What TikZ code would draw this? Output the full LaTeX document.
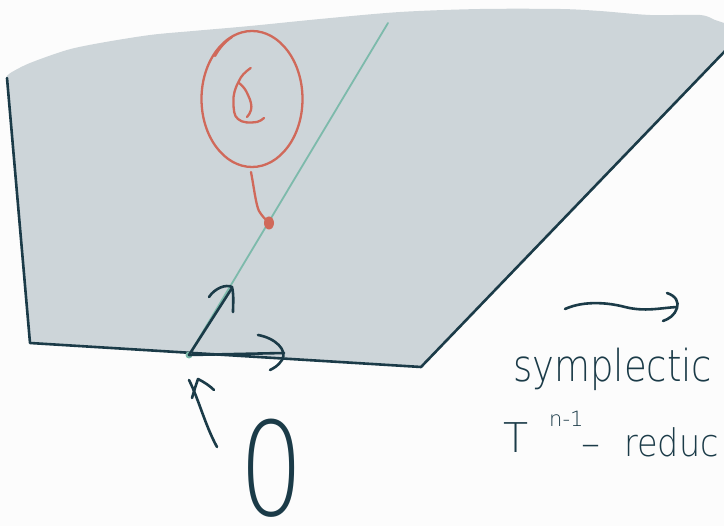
\documentclass[tikz,border=0pt]{standalone}
\usepackage{fontspec}
\usepackage{graphicx}
\newfontfamily\hand{DejaVu Sans ExtraLight}
\definecolor{bg}{HTML}{FCFCFC}
\definecolor{reg}{HTML}{CDD5D9}
\definecolor{ink}{HTML}{1B3B48}
\definecolor{tealc}{HTML}{7DBAAB}
\definecolor{rd}{HTML}{D0695A}
\begin{document}
\begin{tikzpicture}[x=1pt,y=-1pt,line cap=round,line join=round,
  inkline/.style={draw=ink,line width=2.6pt},
  rdline/.style={draw=rd,line width=2.3pt},
  handtext/.style={text=ink,inner sep=0pt,anchor=base west}]
\useasboundingbox (0,0) rectangle (724,526);
\clip (0,0) rectangle (724,526);
\fill[bg] (0,0) rectangle (724,526);
% region
\fill[reg] plot[smooth] coordinates {(7,76) (12,72) (30,63) (67,50) (100,43) (150,35) (193,31) (250,26) (320,19) (400,12) (480,9) (560,9) (600,11) (650,15) (700,15) (715,20) (724,23)}
  -- (724,52) -- (421,367) -- (30,343) -- cycle;
\coordinate (A1) at (7,78);
\coordinate (A2) at (30,343);
\coordinate (A3) at (421,367);
\coordinate (A4) at (726,50);
\draw[inkline] (A1) -- (A2) -- (A3) -- (A4);
% green line
\coordinate (O) at (189,355);
\coordinate (G) at (388,23);
\draw[tealc,line width=1.8pt] (O) -- (G);
\fill[tealc] (O) circle (3.5);
% red point with circle
\coordinate (P) at (269,223);
\draw[rdline] (252,99) ellipse (50.5 and 68);
\draw[rdline] (215,56) .. controls (220,47) and (226,41) .. (232,37);
\draw[rdline] (250.7,68) .. controls (245,72) and (241,76) .. (239,81) .. controls (235,88) and (233,95) .. (233.5,102) .. controls (233.5,110) and (234,116) .. (238,119) .. controls (242,123) and (250,123) .. (257,122) .. controls (260,121) and (262,120) .. (264,118);
\draw[rdline] (239,83) .. controls (243,86) and (246,90) .. (248,95) .. controls (251,101) and (252,106) .. (251,110) .. controls (250,113) and (249,115) .. (247,117);
\draw[rdline] (251,172) .. controls (254,188) and (256,205) .. (259,211) .. controls (262,216) and (265,219) .. (P);
\fill[rd] (P) ellipse (5 and 6.5);
% frame arrows at origin
\coordinate (D) at (232,288);
\coordinate (H) at (284,353);
\draw[inkline] (O) -- (D);
\draw[inkline] (209,297) .. controls (215,288) and (226,284) .. (232,287) .. controls (234,295) and (233,305) .. (233,312);
\draw[inkline] (O) -- (H);
\draw[inkline] (258,335) .. controls (275,338) and (288,350) .. (282,360) .. controls (278,366) and (274,368) .. (270,370);
% zero
\node[text=ink,inner sep=0pt,anchor=base,font=\hand\fontsize{130}{130}\selectfont] (zero) at (272,516) {\scalebox{0.78}[1]{0}};
\coordinate (U) at (217,447);
\draw[inkline] (U) .. controls (205,425) and (199,400) .. (O|-0,380);
\draw[inkline] (192,398) .. controls (194,391) and (196,385) .. (198,379) .. controls (204,382) and (210,386) .. (214,390);
% reduction arrow
\coordinate (R1) at (565,309);
\coordinate (R2) at (677,307);
\draw[inkline] (R1) .. controls (585,300) and (610,303) .. (625,307) .. controls (645,312) and (660,308) .. (R2);
\draw[inkline] (667,293) .. controls (676,296) and (679,302) .. (677,308) .. controls (675,315) and (669,319) .. (663,321);
% text
\node[handtext,font=\hand\fontsize{44}{44}\selectfont] (sym) at (513,382) {\scalebox{0.84}[1]{symplectic}};
\node[handtext,font=\hand\fontsize{41}{41}\selectfont] (T) at (503,453) {T};
\node[handtext,font=\hand\fontsize{21}{21}\selectfont] (exp) at (549,427) {n-1};
\node[handtext,font=\hand\fontsize{38}{38}\selectfont] (dash) at (581,457) {–};
\node[handtext,font=\hand\fontsize{38}{38}\selectfont] (red) at (624,457) {\scalebox{0.88}[1]{reduc}};
\end{tikzpicture}
\end{document}
